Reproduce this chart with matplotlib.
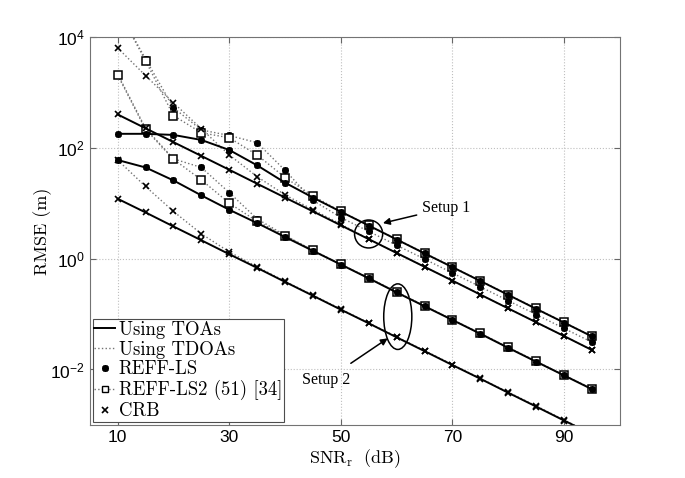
import matplotlib
matplotlib.use("Agg")
import matplotlib.pyplot as plt
from matplotlib.patches import Ellipse

plt.rcParams['font.family'] = ['Liberation Sans', 'DejaVu Sans']
plt.rcParams['mathtext.fontset'] = 'custom'
plt.rcParams['mathtext.rm'] = 'cmr10'
plt.rcParams['axes.unicode_minus'] = True

snr = [10, 15, 20, 25, 30, 35, 40, 45, 50, 55, 60, 65, 70, 75, 80, 85, 90, 95]

# setup 1
toa_ls_1 = [178, 178, 170, 138, 91, 48, 23.4, 12.6, 7.0, 3.94, 2.21, 1.24, 0.70, 0.394, 0.221, 0.124, 0.070, 0.0394]
toa_crb_1 = [398, 224, 126, 71, 40, 22.4, 12.6, 7.1, 3.98, 2.24, 1.26, 0.71, 0.40, 0.224, 0.126, 0.071, 0.040, 0.0224]
tdoa_ls_1 = [31600, 4000, 525, 209, 166, 123, 39, 11.2, 5.5, 3.09, 1.74, 0.98, 0.55, 0.31, 0.174, 0.098, 0.055, 0.031]
tdoa_ls2_1 = [31600, 3700, 380, 186, 151, 74, 29, 13.5, 7.1, 3.98, 2.24, 1.26, 0.71, 0.40, 0.224, 0.126, 0.071, 0.040]
tdoa_crb_1 = [6300, 2000, 645, 219, 74, 30, 14.1, 7.6, 4.17, 2.24, 1.26, 0.71, 0.40, 0.224, 0.126, 0.071, 0.040, 0.0224]

# setup 2
toa_ls_2 = [60, 44, 25.7, 13.8, 7.6, 4.37, 2.45, 1.38, 0.78, 0.44, 0.245, 0.138, 0.078, 0.044, 0.0245, 0.0138, 0.0078, 0.0044]
toa_crb_2 = [12.0, 6.8, 3.8, 2.14, 1.20, 0.68, 0.38, 0.214, 0.120, 0.068, 0.038, 0.0214, 0.0120, 0.0068, 0.0038, 0.00214, 0.00120, 0.00068]
tdoa_ls_2 = [2140, 224, 63, 44, 15.5, 5.2, 2.63, 1.41, 0.79, 0.45, 0.25, 0.141, 0.079, 0.045, 0.025, 0.0141, 0.0079, 0.0045]
tdoa_ls2_2 = [2040, 214, 62, 26.3, 10.0, 4.7, 2.57, 1.41, 0.79, 0.45, 0.25, 0.141, 0.079, 0.045, 0.025, 0.0141, 0.0079, 0.0045]
tdoa_crb_2 = [60, 20, 7.1, 2.8, 1.32, 0.71, 0.39, 0.219, 0.123, 0.069, 0.039, 0.0219, 0.0123, 0.0069, 0.0039, 0.0022, 0.00123, 0.00069]

legend_labels = ["Using TOAs", "Using TDOAs", "REFF-LS", "REFF-LS2 (51) [34]", "CRB"]

star = (8, 2, 0)
dot_kw = dict(color='0.45', linestyle=':', linewidth=1.0, mec='k', mfc='k')
sol_kw = dict(color='k', linestyle='-', linewidth=1.4, mec='k', mfc='k')

fig = plt.figure(figsize=(6.85, 4.78), dpi=100)
ax = fig.add_axes([0.131, 0.111, 0.774, 0.812])

for ls, ls2, crb in [(tdoa_ls_1, tdoa_ls2_1, tdoa_crb_1), (tdoa_ls_2, tdoa_ls2_2, tdoa_crb_2)]:
    ax.plot(snr, ls, marker=star, ms=5, mew=1.3, **dot_kw)
    ax.plot(snr, ls2, marker='s', ms=5.5, mew=1.1, **{**dot_kw, 'mfc': 'white'})
    ax.plot(snr, crb, marker='x', ms=4.5, mew=1.2, **dot_kw)

for ls, crb in [(toa_ls_1, toa_crb_1), (toa_ls_2, toa_crb_2)]:
    ax.plot(snr, ls, marker=star, ms=5, mew=1.3, **sol_kw)
    ax.plot(snr, crb, marker='x', ms=4.5, mew=1.2, **sol_kw)

ax.set_yscale('log')
ax.set_xlim(5, 100)
ax.set_ylim(1e-3, 1e4)
ax.set_xticks([10, 30, 50, 70, 90])
ax.set_yticks([1e-2, 1e0, 1e2, 1e4])
ax.minorticks_off()
ax.tick_params(direction='in', top=True, right=True, labelsize=12.5, length=4, color='0.4')
ax.grid(True, linestyle=':', color='0.75', linewidth=0.8)
for s in ax.spines.values():
    s.set_color('0.45')

cm = dict(family='cmr10', size=13)
ax.set_ylabel("RMSE (m)", fontdict=cm, labelpad=-1)
ax.set_xlabel(r"SNR$_\mathrm{r}$  (dB)", fontdict=cm, labelpad=2)

# legend
h = [
    plt.Line2D([], [], color='k', linestyle='-', linewidth=1.4),
    plt.Line2D([], [], color='0.45', linestyle=':', linewidth=1.0),
    plt.Line2D([], [], color='k', linestyle='none', marker=star, ms=5, mew=1.3),
    plt.Line2D([], [], color='0.45', linestyle=':', linewidth=1.0, marker='s', ms=4, mew=1.0, mec='k', mfc='white'),
    plt.Line2D([], [], color='k', linestyle='none', marker='x', ms=4, mew=1.2),
]
leg = ax.legend(h, legend_labels, loc='lower left', prop=dict(family='cmr10', size=13.5),
                handlelength=1.1, handletextpad=0.2, labelspacing=0.1, borderpad=0.1,
                borderaxespad=0.15, fancybox=False, framealpha=1)
leg.get_frame().set_edgecolor('0.3')
leg.get_frame().set_linewidth(0.8)

# setup annotations
ax.add_patch(Ellipse((0.526, 0.492), 0.053, 0.072, transform=ax.transAxes, fill=False, color='k', lw=1.1))
ax.add_patch(Ellipse((0.581, 0.279), 0.053, 0.169, transform=ax.transAxes, fill=False, color='k', lw=1.1))
ax.annotate("Setup 1", xy=(0.553, 0.52), xytext=(0.627, 0.559), xycoords='axes fraction',
            textcoords='axes fraction', va='center', ha='left', family='Liberation Serif', fontsize=11.5,
            arrowprops=dict(arrowstyle='-|>', color='k', lw=1.1, mutation_scale=10, shrinkA=2, shrinkB=0))
ax.annotate("Setup 2", xy=(0.562, 0.223), xytext=(0.445, 0.115), xycoords='axes fraction',
            textcoords='axes fraction', va='center', ha='center', family='Liberation Serif', fontsize=11.5,
            arrowprops=dict(arrowstyle='-|>', color='k', lw=1.1, mutation_scale=10, shrinkA=8, shrinkB=0))

fig.savefig("out.png", dpi=100)
